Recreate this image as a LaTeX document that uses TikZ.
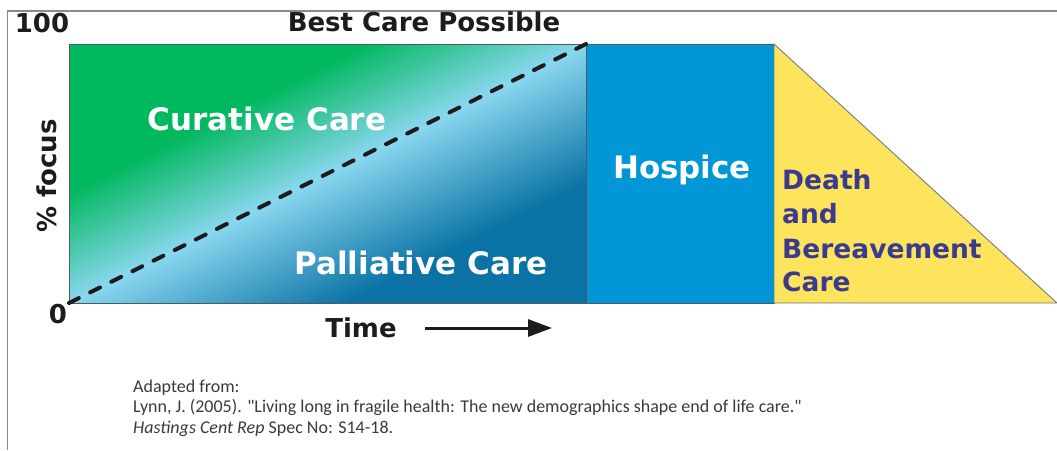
\documentclass[tikz,border=0pt]{standalone}
\usepackage{fontspec}
\setmainfont{DejaVu Sans}
\newfontfamily\citefont{Carlito}
\usetikzlibrary{arrows.meta}

\definecolor{cureGreen}{HTML}{00B85E}
\definecolor{bandLight}{HTML}{8AD7EF}
\definecolor{palDark}{HTML}{0A72A4}
\definecolor{hospBlue}{HTML}{0197D7}
\definecolor{deathYellow}{HTML}{FEE35C}
\definecolor{deathText}{HTML}{3A3B8F}
\definecolor{frameGray}{HTML}{8A8A8A}
\definecolor{edgeGray}{HTML}{4F5B63}
\definecolor{ink}{HTML}{1C1C1C}
\definecolor{noteInk}{HTML}{3A3A3A}

\begin{document}
\begin{tikzpicture}[x=1pt,y=-1pt,
  axislabel/.style={font=\bfseries\fontsize{26}{26}\selectfont, text=ink, inner sep=0pt},
  arealabel/.style={font=\bfseries\fontsize{31}{31}\selectfont, text=white, inner sep=0pt, anchor=base},
  deathlabel/.style={font=\bfseries\fontsize{26.5}{26.5}\selectfont, text=deathText, inner sep=0pt, anchor=base west},
  citeline/.style={font=\citefont\fontsize{18}{18}\selectfont, text=noteInk, inner sep=0pt, anchor=base west},
  edge/.style={draw=edgeGray, line width=0.9pt},
  trend/.style={draw=ink, line width=4pt, line cap=round, dash pattern=on 11pt off 12.64pt},
  timearrow/.style={draw=ink, line width=3pt, -{Triangle[length=24pt,width=17pt]}},
]
\useasboundingbox (0,0) rectangle (1057,450);

% outer frame (left and top rules)
\draw[frameGray, line width=1.2pt] (7.5,450) -- (7.5,11) -- (1057,11);

% chart corners
\coordinate (origin) at (69,303);
\coordinate (peak) at (586,44);

% curative / palliative area with diagonal blend
\begin{scope}
  \clip (69,44) rectangle (586,303);
  \fill[cureGreen] (69,44) rectangle (586,303);
  \fill[palDark] (69,303) -- (586,44) -- (586,303) -- cycle;
  \begin{scope}[transform canvas={shift={(327.5,173.5)}, rotate=26.61}]
    \shade[bottom color=bandLight, top color=cureGreen] (-330pt,-0.5pt) rectangle (330pt,100pt);
    \shade[top color=bandLight, bottom color=palDark] (-330pt,-125pt) rectangle (330pt,0.5pt);
  \end{scope}
\end{scope}
\draw[edge] (69,44) rectangle (586,303);

% hospice block
\filldraw[fill=hospBlue, edge] (586,44) rectangle (774,303);

% death and bereavement wedge
\filldraw[fill=deathYellow, draw=edgeGray!80, line width=0.9pt] (774,44) -- (1057,303) -- (774,303) -- cycle;

% trend line
\draw[trend] (origin) -- (peak);

% axis texts
\node[axislabel, anchor=base] (hundred) at (42,32) {100};
\node[axislabel, anchor=base] (zero) at (58,323) {0};
\node[axislabel, anchor=base] (title) at (424,31.5) {Best Care Possible};
\node[axislabel, rotate=90] (focus) at (47,176) {\% focus};
\node[axislabel, anchor=base] (time) at (361,337) {Time};
\coordinate (tstart) at (425,328);
\coordinate (tend) at (552,328);
\draw[timearrow] (tstart) -- (tend);

% area texts
\node[arealabel] (curative) at (267,130) {Curative Care};
\node[arealabel] (palliative) at (421,274) {Palliative Care};
\node[arealabel] (hospice) at (682,178) {Hospice};
\node[deathlabel] (death1) at (782,189) {Death};
\node[deathlabel] (death2) at (782,223) {and};
\node[deathlabel] (death3) at (782,258) {Bereavement};
\node[deathlabel] (death4) at (782,291) {Care};

% source note
\node[citeline] (cite1) at (133,392) {Adapted from:};
\node[citeline] (cite2) at (133,412) {Lynn, J. (2005). "Living long in fragile health: The new demographics shape end of life care."};
\node[citeline] (cite3) at (133,433) {\textit{Hastings Cent Rep} Spec No: S14-18.};
\end{tikzpicture}
\end{document}
